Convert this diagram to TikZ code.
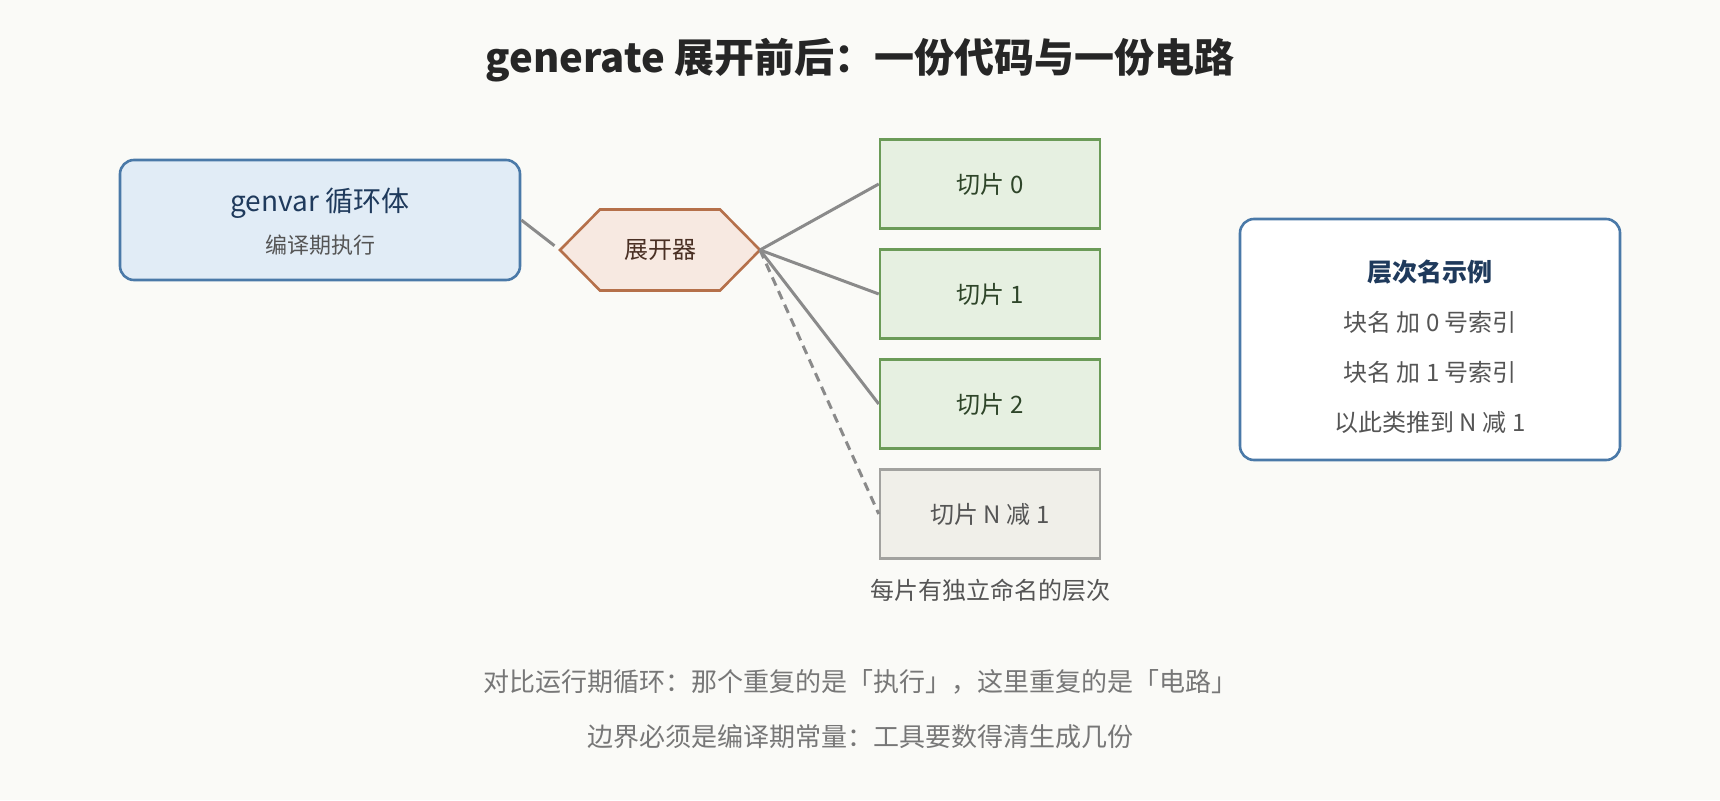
\documentclass[tikz,border=0pt]{standalone}
\usepackage{fontspec}
\setmainfont{Noto Sans CJK SC}
\usetikzlibrary{positioning}

\definecolor{paper}{HTML}{FAFAF7}
\definecolor{bodyline}{HTML}{4A79A8}
\definecolor{bodyfill}{HTML}{E1ECF6}
\definecolor{navy}{HTML}{1F3A5C}
\definecolor{hexline}{HTML}{B5704A}
\definecolor{hexfill}{HTML}{F7E9E1}
\definecolor{hextext}{HTML}{4A3024}
\definecolor{sliceline}{HTML}{6B9B58}
\definecolor{slicefill}{HTML}{E6F0E1}
\definecolor{slicetext}{HTML}{2E4529}
\definecolor{restline}{HTML}{A2A29F}
\definecolor{restfill}{HTML}{F0EFE9}
\definecolor{linkgray}{HTML}{8A8A8A}
\definecolor{softtext}{HTML}{555555}
\definecolor{notetext}{HTML}{777777}

\newcommand{\fsz}[1]{\fontsize{#1}{#1}\selectfont}

\begin{document}
\begin{tikzpicture}[x=1pt, y=-1pt,
    every node/.style={inner sep=0pt},
    slicebox/.style={draw=sliceline, fill=slicefill, line width=2.5pt,
      minimum width=220pt, minimum height=89pt, text=slicetext, font=\fsz{24}},
    link/.style={draw=linkgray, line width=3pt},
    plain/.style={text=softtext, font=\fsz{24}}]

    \fill[paper] (0, 0) rectangle (1720, 800);

    \node[font=\bfseries\fsz{40}, text=black!85] (title) at (860, 60) {generate 展开前后：一份代码与一份电路};

    % loop body
    \node[draw=bodyline, fill=bodyfill, line width=2.6pt, rounded corners=14pt,
      minimum width=400pt, minimum height=120pt] (genvar) at (320, 220) {};
    \node[text=navy, font=\fsz{28}] (genvarname) at (320, 203) {genvar 循环体};
    \node[text=softtext, font=\fsz{22}] (genvarnote) at (320, 245) {编译期执行};

    % expander
    \coordinate (hexW) at (560, 250);
    \coordinate (hexE) at (760, 250);
    \filldraw[draw=hexline, fill=hexfill, line width=2.6pt, line join=miter]
      (hexW) -- ++(40, -40.5) -- ++(120, 0) -- (hexE) -- ++(-40, 40.5) -- ++(-120, 0) -- cycle;
    \node[text=hextext, font=\fsz{24}] (expander) at (660, 250) {展开器};

    \draw[link, shorten >=7pt] (genvar.east) -- (hexW);

    % slices
    \node[slicebox] (slice0) at (990, 184) {切片 0};
    \node[slicebox] (slice1) at (990, 294) {切片 1};
    \node[slicebox] (slice2) at (990, 404) {切片 2};
    \node[slicebox, draw=restline, fill=restfill, text=softtext] (sliceN) at (990, 514) {切片 N 减 1};

    \draw[link] (hexE) -- (slice0.west);
    \draw[link] (hexE) -- (slice1.west);
    \draw[link] (hexE) -- (slice2.west);
    \draw[link, dash pattern=on 9pt off 6pt] (hexE) -- (sliceN.west);

    \node[text=softtext, font=\fsz{24}] (slicenote) at (990, 590) {每片有独立命名的层次};

    % hierarchy names
    \node[draw=bodyline, fill=white, line width=2.6pt, rounded corners=14pt,
      minimum width=380pt, minimum height=241pt] (names) at (1430, 339.5) {};
    \node[text=navy, font=\bfseries\fsz{25}] (namestitle) at (1430, 272) {层次名示例};
    \node[plain] (name0) at (1430, 322) {块名\ 加\ 0\ 号索引};
    \node[plain] (name1) at (1430, 372) {块名\ 加\ 1\ 号索引};
    \node[plain] (nameN) at (1430, 422) {以此类推到\ N\ 减\ 1};

    \node[text=notetext, font=\fsz{26}] (note1) at (860, 682) {对比运行期循环：那个重复的是「执行」，这里重复的是「电路」};
    \node[text=notetext, font=\fsz{26}] (note2) at (860, 737) {边界必须是编译期常量：工具要数得清生成几份};

\end{tikzpicture}
\end{document}
